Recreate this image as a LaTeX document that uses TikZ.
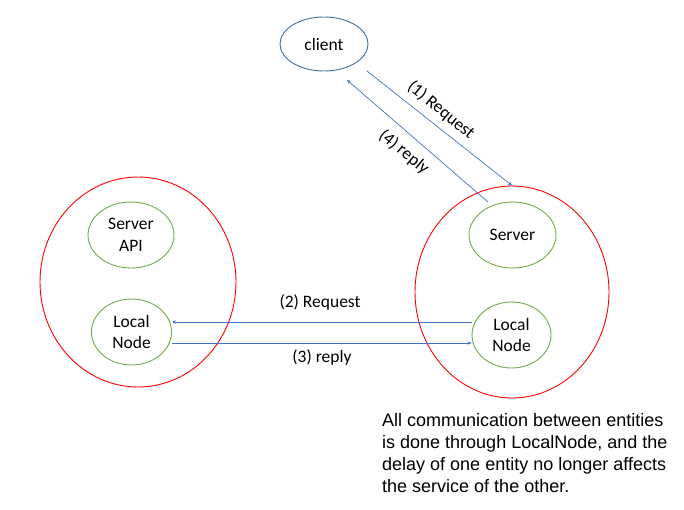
\documentclass[tikz,border=0pt]{standalone}
\usepackage{fontspec}
\setmainfont{Carlito}
\newfontfamily\arialfont{Liberation Sans}
\usetikzlibrary{shapes.geometric,arrows.meta}
\definecolor{lineblue}{RGB}{68,114,196}
\definecolor{clientblue}{RGB}{65,113,156}
\definecolor{ngreen}{RGB}{112,173,71}
\definecolor{nred}{RGB}{255,0,0}
\tikzset{
  bigell/.style={ellipse, draw=nred, line width=0.9pt, inner sep=0pt},
  smallell/.style={ellipse, draw=ngreen, line width=0.9pt, inner sep=0pt, align=center, font=\fontsize{17.5}{21.5}\selectfont},
  clientell/.style={ellipse, draw=clientblue, line width=0.9pt, inner sep=0pt, font=\fontsize{17.5}{20}\selectfont},
  arr/.style={draw=lineblue, line width=0.7pt, -{Stealth[length=4pt,width=3.5pt]}},
  lbl/.style={font=\fontsize{17.5}{20}\selectfont, inner sep=0pt}
}
\begin{document}
\begin{tikzpicture}[x=1pt,y=-1pt]
\useasboundingbox[fill=white] (0,0) rectangle (684,509);
\node[clientell, minimum width=88pt, minimum height=54pt] (client) at (324,44) {client};
\node[bigell, minimum width=196pt, minimum height=210pt] (lbig) at (138,282) {};
\node[bigell, minimum width=194pt, minimum height=212pt] (rbig) at (512,292) {};
\node[smallell, minimum width=86pt, minimum height=66pt] (api) at (131,235) {Server\\API};
\node[smallell, minimum width=80pt, minimum height=66pt] (llocal) at (131.5,332) {Local\\Node};
\node[smallell, minimum width=87pt, minimum height=66pt] (server) at (512.5,235) {Server};
\node[smallell, minimum width=79pt, minimum height=66pt] (rlocal) at (511.5,335) {Local\\Node};
\coordinate (c1) at (367,71);
\coordinate (c4) at (347,80);
\coordinate (s4) at (488,202);
\coordinate (y2) at (0,322);
\coordinate (y3) at (0,343);
\draw[arr] (c1) -- (rbig.north);
\draw[arr] (s4) -- (c4);
\draw[arr] (rlocal.west |- y2) -- (llocal.east |- y2);
\draw[arr] (llocal.east |- y3) -- (rlocal.west |- y3);
\node[lbl, rotate=-39.3] (l1) at (441,110) {(1) Request};
\node[lbl, rotate=-39.3] (l4) at (404,152) {(4) reply};
\node[lbl] (l2) at (320,303) {(2) Request};
\node[lbl] (l3) at (322,358) {(3) reply};
\node[anchor=base west, inner sep=0pt, align=left, font=\arialfont\fontsize{18}{22}\selectfont] (note) at (382,492.7)
  {All communication between entities\\is done through LocalNode, and the\\delay of one entity no longer affects\\the service of the other.};
\end{tikzpicture}
\end{document}
